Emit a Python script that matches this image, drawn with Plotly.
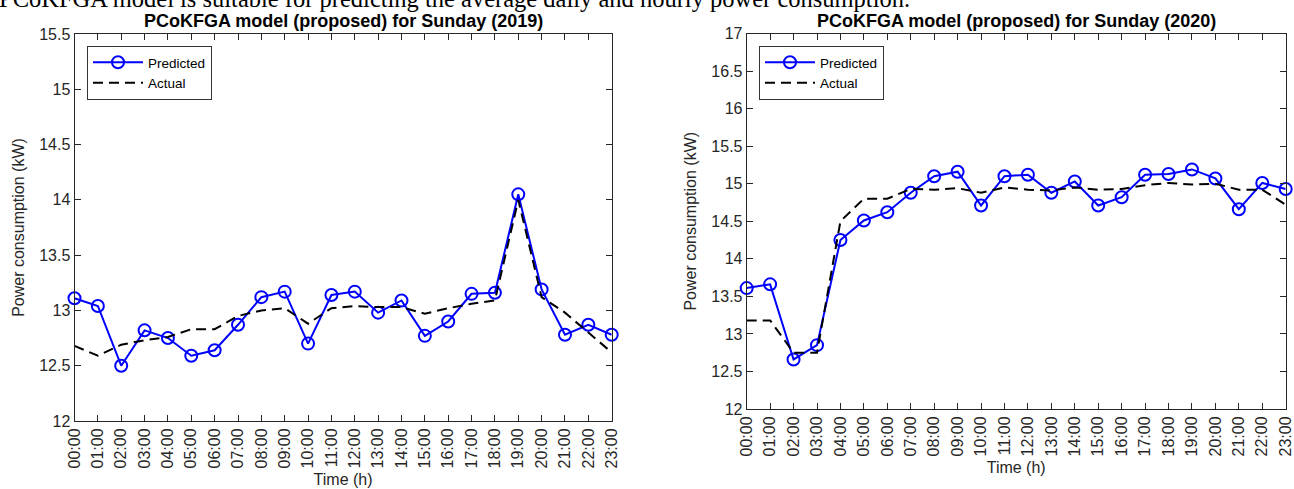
import plotly.graph_objects as go

hours = ["%02d:00" % h for h in range(24)]
hour_idx = list(range(24))

pred_2019 = [13.11, 13.04, 12.50, 12.82, 12.75, 12.59, 12.64, 12.87, 13.12, 13.17, 12.70, 13.14,
             13.17, 12.98, 13.09, 12.77, 12.90, 13.15, 13.16, 14.05, 13.19, 12.78, 12.87, 12.78]
actual_2019 = [12.68, 12.59, 12.69, 12.73, 12.76, 12.83, 12.83, 12.95, 13.00, 13.02, 12.88, 13.02,
               13.04, 13.03, 13.03, 12.97, 13.02, 13.06, 13.09, 14.00, 13.12, 12.98, 12.80, 12.62]

pred_2020 = [13.61, 13.66, 12.66, 12.85, 14.25, 14.51, 14.62, 14.88, 15.10, 15.16, 14.71, 15.10,
             15.12, 14.88, 15.03, 14.71, 14.82, 15.12, 15.13, 15.19, 15.07, 14.66, 15.01, 14.93]
actual_2020 = [13.18, 13.18, 12.75, 12.75, 14.50, 14.80, 14.80, 14.93, 14.92, 14.94, 14.88, 14.95,
               14.92, 14.91, 14.95, 14.92, 14.93, 14.98, 15.01, 14.99, 15.00, 14.92, 14.92, 14.72]

yticks_2019 = [12, 12.5, 13, 13.5, 14, 14.5, 15, 15.5]
yticks_2020 = [12, 12.5, 13, 13.5, 14, 14.5, 15, 15.5, 16, 16.5, 17]

titles = ["PCoKFGA model (proposed) for Sunday (2019)", "PCoKFGA model (proposed) for Sunday (2020)"]
caption = "PCoKFGA model is suitable for predicting the average daily and hourly power consumption."

W, H = 1294, 489
BLUE = "#0000FF"
AX = "#262626"
FONT = "Liberation Sans"

fig = go.Figure()

def add_pair(pred, actual, xa, ya, legend):
    fig.add_trace(go.Scatter(x=hour_idx, y=pred, mode="lines+markers", name="Predicted",
                             line=dict(color=BLUE, width=2),
                             marker=dict(symbol="circle-open", size=12, color=BLUE, line=dict(width=2)),
                             xaxis=xa, yaxis=ya, legend=legend, cliponaxis=False))
    fig.add_trace(go.Scatter(x=hour_idx, y=actual, mode="lines", name="Actual",
                             line=dict(color="black", width=2, dash="10px,6px"),
                             xaxis=xa, yaxis=ya, legend=legend, cliponaxis=False))

add_pair(pred_2019, actual_2019, "x", "y", "legend")
add_pair(pred_2020, actual_2020, "x2", "y2", "legend2")

def xaxis(domain, anchor):
    return dict(domain=domain, anchor=anchor, range=[0, 23], tickmode="array",
                tickvals=hour_idx, ticktext=hours, tickangle=-90, automargin=False,
                ticks="inside", ticklen=6, tickcolor=AX, showline=True, linecolor=AX, linewidth=1,
                mirror="ticks", showgrid=False, zeroline=False,
                tickfont=dict(family=FONT, size=16, color=AX),
                title=dict(text="Time (h)", font=dict(family=FONT, size=16, color=AX), standoff=6))

def yaxis(domain, anchor, rng, ticks):
    return dict(domain=domain, anchor=anchor, range=rng, tickmode="array", tickvals=ticks,
                ticktext=[("%g" % t) for t in ticks], automargin=False,
                ticks="inside", ticklen=6, tickcolor=AX, showline=True, linecolor=AX, linewidth=1,
                mirror="ticks", showgrid=False, zeroline=False,
                tickfont=dict(family=FONT, size=16, color=AX),
                title=dict(text="Power consumption (kW)", font=dict(family=FONT, size=16, color=AX), standoff=10))

fig.update_layout(
    width=W, height=H, margin=dict(l=0, r=0, t=0, b=0, autoexpand=False),
    paper_bgcolor="white", plot_bgcolor="white",
    xaxis=xaxis([74.5 / W, 611.7 / W], "y"),
    yaxis=yaxis([1 - 421 / H, 1 - 34 / H], "x", [12, 15.5], yticks_2019),
    xaxis2=xaxis([746.7 / W, 1285.7 / W], "y2"),
    yaxis2=yaxis([1 - 409 / H, 1 - 33.5 / H], "x2", [12, 17], yticks_2020),
    legend=dict(x=87 / W, y=1 - 46 / H, xanchor="left", yanchor="top",
                bordercolor="#333333", borderwidth=1, bgcolor="white",
                font=dict(family=FONT, size=13.5, color="black"), itemwidth=50,
                tracegroupgap=0),
    legend2=dict(x=759 / W, y=1 - 46 / H, xanchor="left", yanchor="top",
                 bordercolor="#333333", borderwidth=1, bgcolor="white",
                 font=dict(family=FONT, size=13.5, color="black"), itemwidth=50,
                 tracegroupgap=0),
    showlegend=True,
)

fig.add_annotation(text="<b>%s</b>" % titles[0], xref="paper", yref="paper",
                   x=(74.5 + 611.7) / 2 / W, y=1 - 21 / H, xanchor="center", yanchor="middle",
                   showarrow=False, font=dict(family=FONT, size=18, color="black"))
fig.add_annotation(text="<b>%s</b>" % titles[1], xref="paper", yref="paper",
                   x=(746.7 + 1285.7) / 2 / W, y=1 - 21 / H, xanchor="center", yanchor="middle",
                   showarrow=False, font=dict(family=FONT, size=18, color="black"))
fig.add_annotation(text=caption, xref="paper", yref="paper", x=0, y=1 - 14 / H,
                   xanchor="left", yanchor="bottom", xshift=-3, showarrow=False,
                   font=dict(family="Liberation Serif", size=24.5, color="black"))

fig.write_html("out.html", config={"displayModeBar": False},
               post_script="document.body.style.margin='0';document.body.style.overflow='hidden';")
